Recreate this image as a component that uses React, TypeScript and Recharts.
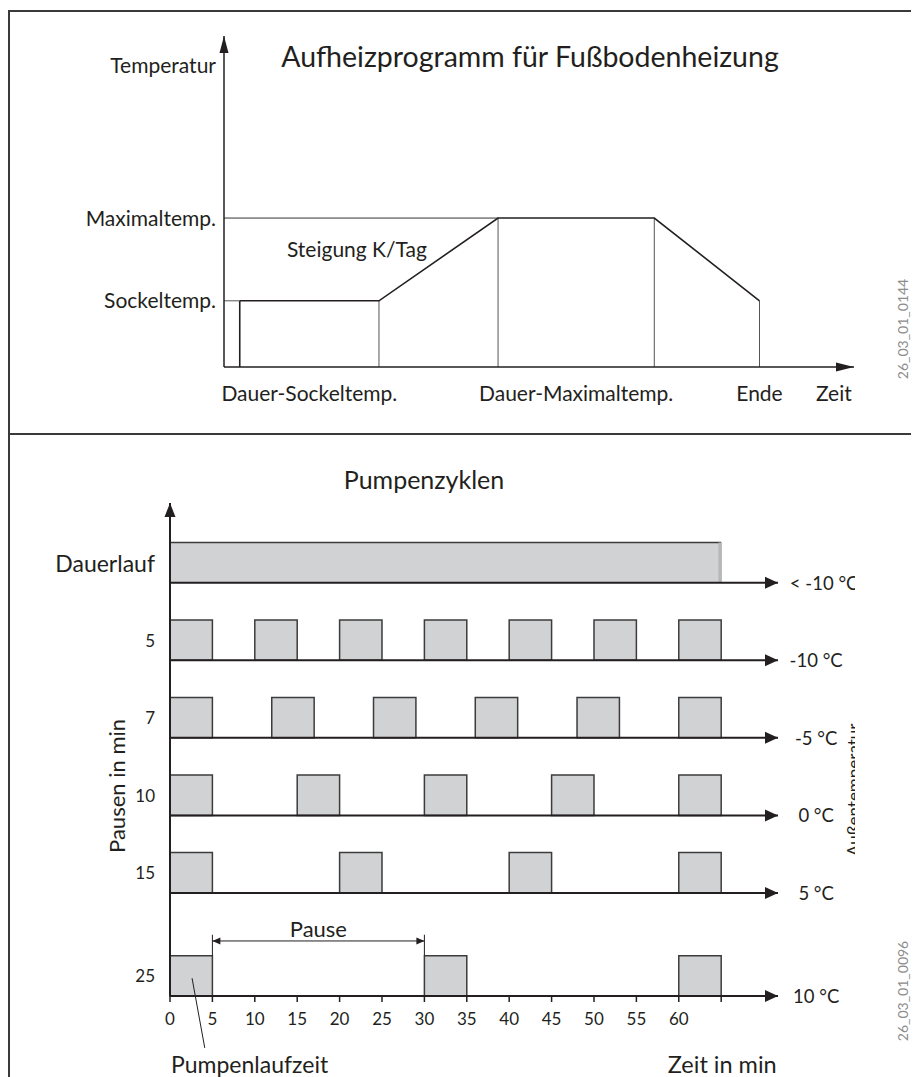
import React from 'react';
import {
  LineChart,
  ComposedChart,
  Line,
  XAxis,
  YAxis,
  ReferenceLine,
  ReferenceArea,
  ReferenceDot,
} from 'recharts';

const FONT = "Lato, 'Open Sans', 'DejaVu Sans', sans-serif";
const INK = '#231f20';
const BAR_FILL = '#d1d2d4';
const BAR_STROKE = '#3c3c3c';

// ---------- Top chart: Aufheizprogramm ----------
const profileTime = [2.5, 24.6, 43.5, 68.3, 85];
const profileTemp = [20, 20, 45, 45, 20];
const sockelTemp = 20;
const maxTemp = 45;
const topAxisMax = 100;
const topYTicks = [20, 45, 91];
const topYLabels = ['Sockeltemp.', 'Maximaltemp.', 'Temperatur'];
const topXTicks = [13.55, 55.9, 85, 96.8];
const topXLabels = ['Dauer-Sockeltemp.', 'Dauer-Maximaltemp.', 'Ende', 'Zeit'];

// ---------- Bottom chart: Pumpenzyklen ----------
const rowLabels = ['Dauerlauf', '5', '7', '10', '15', '25'];
const rowTemps = ['< -10 °C', '-10 °C', '-5 °C', '0 °C', '5 °C', '10 °C'];
const rowLevel = [5.33, 4.33, 3.33, 2.33, 1.33, 0];
const runStarts = [
  [0],
  [0, 10, 20, 30, 40, 50, 60],
  [0, 12, 24, 36, 48, 60],
  [0, 15, 30, 45, 60],
  [0, 20, 40, 60],
  [0, 30, 60],
];
const runLength = 5;
const continuousEnd = 65;
const minuteTicks = [0, 5, 10, 15, 20, 25, 30, 35, 40, 45, 50, 55, 60, 65];
const barH = 0.52;
const bottomXMax = 71.7;
const bottomYMax = 6.36;

const profileData = profileTime.map((t, i) => ({ t, temp: profileTemp[i] }));

const textShape =
  (text: string, size: number, opts: any = {}) =>
  (p: any) => {
    const rot = opts.rotate
      ? `rotate(${opts.rotate} ${p.cx} ${p.cy})`
      : undefined;
    return (
      <text
        x={p.cx}
        y={p.cy}
        fontFamily={FONT}
        fontSize={size}
        fill={opts.color || INK}
        textAnchor={opts.anchor || 'middle'}
        dominantBaseline={opts.baseline || 'central'}
        transform={rot}
      >
        {text}
      </text>
    );
  };

const arrowRight = (len: number, half: number) => (p: any) => (
  <polygon
    points={`${p.cx},${p.cy} ${p.cx - len},${p.cy - half} ${p.cx - len},${p.cy + half}`}
    fill={INK}
  />
);
const arrowLeft = (len: number, half: number) => (p: any) => (
  <polygon
    points={`${p.cx},${p.cy} ${p.cx + len},${p.cy - half} ${p.cx + len},${p.cy + half}`}
    fill={INK}
  />
);
const arrowUp = (len: number, half: number) => (p: any) => (
  <polygon
    points={`${p.cx},${p.cy} ${p.cx - half},${p.cy + len} ${p.cx + half},${p.cy + len}`}
    fill={INK}
  />
);

const Title = ({ text, cx, baseline, size }: any) => (
  <div
    style={{
      position: 'absolute',
      left: cx,
      top: baseline - 0.887 * size,
      transform: 'translateX(-50%)',
      fontFamily: FONT,
      fontSize: size,
      lineHeight: `${size}px`,
      color: INK,
      whiteSpace: 'nowrap',
    }}
  >
    {text}
  </div>
);

const Code = ({ text, cx, cy }: any) => (
  <div
    style={{
      position: 'absolute',
      left: cx,
      top: cy,
      transform: 'translate(-50%, -50%) rotate(-90deg)',
      fontFamily: FONT,
      fontSize: 14,
      lineHeight: '14px',
      color: '#8c8c8c',
      whiteSpace: 'nowrap',
    }}
  >
    {text}
  </div>
);

const BottomYTick = (props: any) => {
  const idx = rowLevel.findIndex(
    (l) => Math.abs(l + barH / 2 - props.payload.value) < 1e-6
  );
  const label = rowLabels[idx] ?? '';
  return (
    <text
      x={props.x}
      y={props.y}
      textAnchor="end"
      dominantBaseline="central"
      fontFamily={FONT}
      fontSize={label === 'Dauerlauf' ? 23 : 17}
      fill={INK}
    >
      {label}
    </text>
  );
};

export default function App() {
  const rowTickPos = rowLevel.map((l) => l + barH / 2);
  return (
    <div style={{ position: 'relative', width: 911, height: 1069, background: '#fff' }}>
      {/* frame */}
      <div style={{ position: 'absolute', left: 0, top: 2, width: 911, height: 1.5, background: '#3a3a3a' }} />
      <div style={{ position: 'absolute', left: 0, top: 2, width: 1.5, height: 1067, background: '#3a3a3a' }} />
      <div style={{ position: 'absolute', left: 0, top: 425, width: 911, height: 1.5, background: '#3a3a3a' }} />

      {/* top chart */}
      <div style={{ position: 'absolute', left: 0, top: 0 }}>
        <LineChart
          width={911}
          height={425}
          data={profileData}
          margin={{ top: 28, right: 65, bottom: 0, left: 0 }}
        >
          <XAxis
            dataKey="t"
            type="number"
            domain={[0, topAxisMax]}
            ticks={topXTicks}
            interval={0}
            tickFormatter={(v: number) => topXLabels[topXTicks.indexOf(v)] ?? ''}
            tickLine={false}
            tickSize={0}
            tickMargin={19}
            height={66}
            axisLine={{ stroke: INK, strokeWidth: 1.5 }}
            tick={{ fill: INK, fontSize: 21, fontFamily: FONT }}
          />
          <YAxis
            type="number"
            domain={[0, topAxisMax]}
            ticks={topYTicks}
            interval={0}
            tickFormatter={(v: number) => topYLabels[topYTicks.indexOf(v)] ?? ''}
            width={216}
            tickLine={false}
            tickSize={0}
            tickMargin={8}
            axisLine={{ stroke: INK, strokeWidth: 1.5 }}
            tick={{ fill: INK, fontSize: 21, fontFamily: FONT }}
          />
          <ReferenceLine
            segment={[{ x: 0, y: maxTemp }, { x: profileTime[2], y: maxTemp }]}
            stroke="#333"
            strokeWidth={1}
          />
          <ReferenceLine
            segment={[{ x: 0, y: sockelTemp }, { x: profileTime[0], y: sockelTemp }]}
            stroke="#555"
            strokeWidth={1}
          />
          {profileTime.map((t, i) => (
            <ReferenceLine
              key={`v${i}`}
              segment={[{ x: t, y: 0 }, { x: t, y: profileTemp[i] }]}
              stroke={i === 0 ? INK : '#555'}
              strokeWidth={i === 0 ? 1.6 : 1}
            />
          ))}
          <Line
            dataKey="temp"
            type="linear"
            stroke={INK}
            strokeWidth={1.6}
            dot={false}
            isAnimationActive={false}
          />
          <ReferenceDot x={topAxisMax} y={0} r={0} ifOverflow="visible" shape={arrowRight(18, 4.5)} />
          <ReferenceDot x={0} y={topAxisMax} r={0} ifOverflow="visible" shape={arrowUp(17, 4.5)} />
          <ReferenceDot x={21.1} y={35.95} r={0} ifOverflow="visible" shape={textShape('Steigung K/Tag', 21)} />
        </LineChart>
      </div>

      {/* bottom chart */}
      <div style={{ position: 'absolute', left: 0, top: 425, width: 847, height: 644, overflow: 'hidden' }}>
        <ComposedChart
          width={847}
          height={644}
          margin={{ top: 70, right: 77, bottom: 0, left: 0 }}
        >
          <XAxis
            dataKey="x"
            type="number"
            domain={[0, bottomXMax]}
            ticks={minuteTicks}
            interval={0}
            tickFormatter={(v: number) => (v === continuousEnd ? '' : String(v))}
            tickSize={6}
            tickMargin={11}
            tickLine={{ stroke: INK, strokeWidth: 1.5 }}
            axisLine={{ stroke: INK, strokeWidth: 2 }}
            height={81}
            tick={{ fill: INK, fontSize: 17, fontFamily: FONT }}
          />
          <YAxis
            type="number"
            dataKey="y"
            domain={[0, bottomYMax]}
            ticks={rowTickPos}
            interval={0}
            width={162}
            tickLine={false}
            tickSize={0}
            tickMargin={15}
            axisLine={{ stroke: INK, strokeWidth: 2 }}
            tick={BottomYTick}
          />

          {/* continuous run */}
          <ReferenceArea
            x1={0}
            x2={continuousEnd}
            y1={rowLevel[0]}
            y2={rowLevel[0] + barH}
            fill={BAR_FILL}
            fillOpacity={1}
            stroke="none"
          />
          <ReferenceLine
            segment={[{ x: 0, y: rowLevel[0] + barH }, { x: continuousEnd, y: rowLevel[0] + barH }]}
            stroke={BAR_STROKE}
            strokeWidth={1.5}
          />
          <ReferenceLine
            segment={[{ x: continuousEnd - 0.12, y: rowLevel[0] }, { x: continuousEnd - 0.12, y: rowLevel[0] + barH }]}
            stroke="#b6b7b9"
            strokeWidth={3.5}
          />

          {/* pump blocks */}
          {runStarts.slice(1).map((starts, r) =>
            starts.map((s, k) => (
              <ReferenceArea
                key={`b${r}-${k}`}
                x1={s}
                x2={s + runLength}
                y1={rowLevel[r + 1]}
                y2={rowLevel[r + 1] + barH}
                fill={BAR_FILL}
                fillOpacity={1}
                stroke={BAR_STROKE}
                strokeWidth={1.5}
              />
            ))
          )}

          {/* row time axes */}
          {rowLevel.map((l, i) => (
            <Line
              key={`row${i}`}
              data={[{ x: 0, y: l }, { x: bottomXMax, y: l }]}
              dataKey="y"
              type="linear"
              stroke={INK}
              strokeWidth={2}
              dot={false}
              isAnimationActive={false}
            />
          ))}
          {rowLevel.map((l, i) => (
            <ReferenceDot key={`a${i}`} x={bottomXMax} y={l} r={0} ifOverflow="visible" shape={arrowRight(13, 6)} />
          ))}
          <ReferenceDot x={0} y={bottomYMax} r={0} ifOverflow="visible" shape={arrowUp(14, 5.5)} />

          {/* outside temperature labels */}
          {rowTemps.map((t, i) => (
            <ReferenceDot
              key={`t${i}`}
              x={i === 0 ? 73.1 : 76.2}
              y={rowLevel[i]}
              r={0}
              ifOverflow="visible"
              shape={textShape(t, 18.5, { anchor: i === 0 ? 'start' : 'middle' })}
            />
          ))}
          <ReferenceDot x={80.66} y={2.66} r={0} ifOverflow="visible" shape={textShape('Außentemperatur', 17, { rotate: -90 })} />
          <ReferenceDot x={-6.25} y={2.71} r={0} ifOverflow="visible" shape={textShape('Pausen in min', 22, { rotate: -90 })} />

          {/* Pause dimension */}
          <ReferenceLine segment={[{ x: 5, y: 0.71 }, { x: 30, y: 0.71 }]} stroke={INK} strokeWidth={1} />
          <ReferenceLine segment={[{ x: 5, y: barH }, { x: 5, y: 0.79 }]} stroke={INK} strokeWidth={1} />
          <ReferenceLine segment={[{ x: 30, y: barH }, { x: 30, y: 0.79 }]} stroke={INK} strokeWidth={1} />
          <ReferenceDot x={5} y={0.71} r={0} ifOverflow="visible" shape={arrowLeft(8, 3.5)} />
          <ReferenceDot x={30} y={0.71} r={0} ifOverflow="visible" shape={arrowRight(8, 3.5)} />
          <ReferenceDot x={17.5} y={0.76} r={0} ifOverflow="visible" shape={textShape('Pause', 22, { baseline: 'alphabetic' })} />

          {/* Pumpenlaufzeit leader */}
          <ReferenceLine
            segment={[{ x: 2.6, y: 0.23 }, { x: 4.1, y: -0.67 }]}
            stroke={INK}
            strokeWidth={1}
            ifOverflow="visible"
          />
          <ReferenceDot x={0.12} y={-0.99} r={0} ifOverflow="visible" shape={textShape('Pumpenlaufzeit', 23, { anchor: 'start', baseline: 'alphabetic' })} />
          <ReferenceDot x={58.7} y={-0.99} r={0} ifOverflow="visible" shape={textShape('Zeit in min', 23.5, { anchor: 'start', baseline: 'alphabetic' })} />
        </ComposedChart>
      </div>

      <Title text="Aufheizprogramm für Fußbodenheizung" cx={522} baseline={59} size={28.5} />
      <Title text="Pumpenzyklen" cx={416} baseline={481} size={25} />
      <Code text="26_03_01_0144" cx={895} cy={321} />
      <Code text="26_03_01_0096" cx={895} cy={983} />
    </div>
  );
}
